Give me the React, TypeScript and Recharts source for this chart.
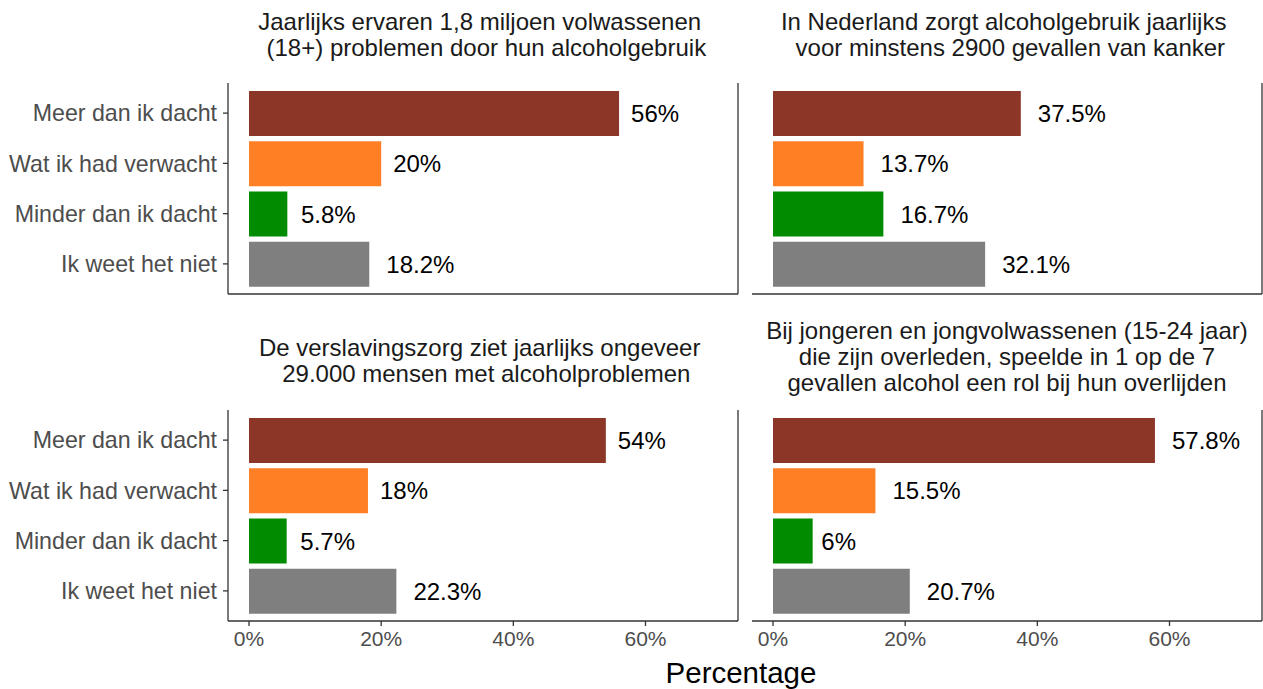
import { Bar, BarChart, Cell, LabelList, ReferenceLine, XAxis, YAxis } from 'recharts'

const categories = ['Meer dan ik dacht', 'Wat ik had verwacht', 'Minder dan ik dacht', 'Ik weet het niet']
const barColors = ['#8B3626', '#FF7F24', '#008B00', '#7F7F7F']
const percentTicks = [0, 20, 40, 60]

const ervarenProblemen = [56, 20, 5.8, 18.2]
const kankerGevallen = [37.5, 13.7, 16.7, 32.1]
const verslavingszorg = [54, 18, 5.7, 22.3]
const jongerenOverlijden = [57.8, 15.5, 6, 20.7]

const titleProblemen = ['Jaarlijks ervaren 1,8 miljoen volwassenen ', ' (18+) problemen door hun alcoholgebruik']
const titleKanker = ['In Nederland zorgt alcoholgebruik jaarlijks ', ' voor minstens 2900 gevallen van kanker']
const titleZorg = ['De verslavingszorg ziet jaarlijks ongeveer ', ' 29.000 mensen met alcoholproblemen']
const titleJongeren = [
  'Bij jongeren en jongvolwassenen (15-24 jaar)',
  'die zijn overleden, speelde in 1 op de 7',
  'gevallen alcohol een rol bij hun overlijden',
]

const FONT = '"Liberation Sans", Arial, sans-serif'
const X_MIN = -3.18
const X_MAX = 74.0
const AXIS = '#333333'
const VALUE_SIZE = 24

// rough Arial advance widths, for the hjust-like label gap
const charWidths: Record<string, number> = { '.': 0.278, '%': 0.889 }
function textWidth(text: string, size: number) {
  let w = 0
  for (const ch of text) w += charWidths[ch] ?? 0.556
  return w * size
}

function ValueLabel(props: any) {
  const { x, y, width, height, value } = props
  const text = `${value}%`
  const gap = textWidth(text, VALUE_SIZE) * 0.25
  return (
    <text
      x={Number(x) + Number(width) + gap}
      y={Number(y) + Number(height) / 2}
      dominantBaseline="central"
      fill="#000000"
      fontSize={VALUE_SIZE}
      fontFamily={FONT}
    >
      {text}
    </text>
  )
}

function Panel({
  values,
  title,
  left,
  bottom,
  top,
  titleTop,
}: {
  values: number[]
  title: string[]
  left: boolean
  bottom: boolean
  top: number
  titleTop: number
}) {
  const rows = categories.map((cat, i) => ({ cat, value: values[i] }))
  const plotLeft = left ? 228 : 752
  const chartLeft = left ? 0 : 750
  const chartWidth = left ? 740 : 513
  const axisHeight = bottom ? 50 : 1
  const chartHeight = 211 + axisHeight + (bottom ? 0 : 2)

  return (
    <>
      <div
        style={{
          position: 'absolute',
          left: plotLeft,
          top: titleTop,
          width: 510,
          textAlign: 'center',
          fontFamily: FONT,
          fontSize: 24,
          lineHeight: '26px',
          color: '#1A1A1A',
          whiteSpace: 'pre',
        }}
      >
        {title.map((line) => (
          <div key={line}>{line}</div>
        ))}
      </div>
      <div style={{ position: 'absolute', left: chartLeft, top }}>
        <BarChart
          width={chartWidth}
          height={chartHeight}
          data={rows}
          layout="vertical"
          margin={{ top: 0, right: left ? 2 : 1, bottom: bottom ? 0 : 2, left: left ? 0 : 2 }}
        >
          <XAxis
            type="number"
            domain={[X_MIN, X_MAX]}
            allowDataOverflow
            ticks={percentTicks}
            tickFormatter={(v) => `${v}%`}
            height={axisHeight}
            axisLine={{ stroke: AXIS, strokeWidth: 1.3 }}
            tickLine={bottom ? { stroke: AXIS, strokeWidth: 1.3 } : false}
            tick={bottom ? { fill: '#4D4D4D', fontSize: 21, fontFamily: FONT } : false}
            tickSize={5}
            tickMargin={5}
          />
          <YAxis
            type="category"
            dataKey="cat"
            width={left ? 228 : 0}
            padding={{ top: 5, bottom: 5 }}
            axisLine={{ stroke: AXIS, strokeWidth: 1.3 }}
            tickLine={left ? { stroke: AXIS, strokeWidth: 1.3 } : false}
            tick={left ? { fill: '#4D4D4D', fontSize: 23.2, fontFamily: FONT } : false}
            tickSize={5}
            tickMargin={6}
          />
          <ReferenceLine x={X_MAX} stroke={AXIS} strokeWidth={1.3} />
          <Bar dataKey="value" barSize={45} isAnimationActive={false}>
            {rows.map((row, i) => (
              <Cell key={row.cat} fill={barColors[i]} />
            ))}
            <LabelList dataKey="value" content={ValueLabel} />
          </Bar>
        </BarChart>
      </div>
    </>
  )
}

export default function App() {
  return (
    <div
      style={{
        position: 'absolute',
        left: 0,
        top: 0,
        width: 1263,
        height: 689,
        background: '#ffffff',
        overflow: 'hidden',
      }}
    >
      <Panel values={ervarenProblemen} title={titleProblemen} left bottom={false} top={83} titleTop={9} />
      <Panel values={kankerGevallen} title={titleKanker} left={false} bottom={false} top={83} titleTop={9} />
      <Panel values={verslavingszorg} title={titleZorg} left bottom top={410} titleTop={335} />
      <Panel values={jongerenOverlijden} title={titleJongeren} left={false} bottom top={410} titleTop={318} />
      <div
        style={{
          position: 'absolute',
          left: 224,
          width: 1034,
          top: 656,
          textAlign: 'center',
          fontFamily: FONT,
          fontSize: 29.5,
          lineHeight: '34px',
          color: '#000000',
        }}
      >
        Percentage
      </div>
    </div>
  )
}
